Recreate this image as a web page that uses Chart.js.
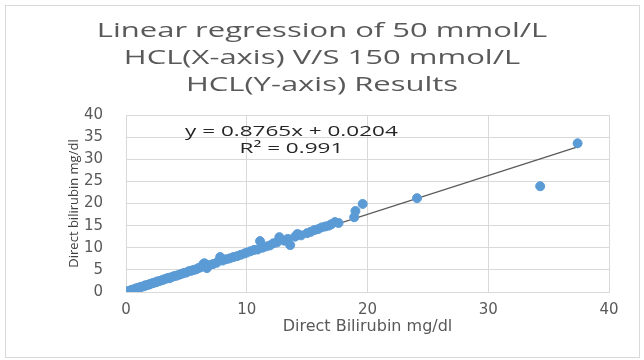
<!DOCTYPE html>
<html lang="en">
<head>
    <meta charset="UTF-8">
    <title>Linear regression HCL</title>
    <script src="https://cdn.jsdelivr.net/npm/chart.js"></script>
    <style>
        body { margin: 0; background: #fff; }
        canvas { display: block; }
    </style>
</head>
<body>
    <canvas id="regChart" width="644" height="360"></canvas>

    <script>
        // 50 mmol/L results (x) vs 150 mmol/L results (y)
        const xValues = [0.1, 0.2, 0.3, 0.4, 0.5, 0.6, 0.7, 0.8, 0.9, 1.0, 1.1, 1.2, 1.3, 1.5, 1.6, 1.8, 1.9, 2.0,
            2.2, 2.3, 2.5, 2.6, 2.8, 3.0, 3.1, 3.3, 3.5, 3.6, 3.8, 4.0, 4.2, 4.4, 4.6, 4.8, 5.0, 5.2, 5.4, 5.6,
            5.8, 6.0, 6.2, 6.4, 6.5, 6.7, 6.9, 7.2, 7.5, 7.8, 8.0, 8.3, 8.6, 8.9, 9.2, 9.5, 9.8, 10.0, 10.3,
            10.6, 10.9, 11.1, 11.3, 11.6, 11.9, 12.2, 12.5, 12.7, 13.1, 13.4, 13.6, 14.0, 14.2, 14.5, 15.0,
            15.3, 15.6, 15.9, 16.2, 16.5, 16.8, 17.0, 17.3, 17.6, 18.9, 19.0, 19.6, 24.1, 34.3, 37.4];
        const yValues = [0.1, 0.2, 0.2, 0.4, 0.5, 0.5, 0.6, 0.8, 0.8, 0.9, 1.0, 1.1, 1.2, 1.3, 1.5, 1.6, 1.7, 1.8,
            2.0, 2.1, 2.2, 2.4, 2.5, 2.7, 2.8, 3.0, 3.2, 3.1, 3.4, 3.6, 3.7, 3.9, 4.1, 4.3, 4.4, 4.7, 4.8, 5.0,
            5.1, 5.4, 5.6, 6.3, 6.5, 5.4, 6.1, 6.3, 6.6, 7.9, 7.1, 7.4, 7.6, 7.9, 8.1, 8.4, 8.7, 8.9, 9.2,
            9.5, 9.6, 11.5, 10.0, 10.3, 10.5, 11.0, 11.2, 12.4, 11.6, 12.0, 10.6, 12.5, 13.1, 12.8, 13.3,
            13.6, 14.0, 14.2, 14.6, 14.8, 15.0, 15.3, 15.8, 15.6, 16.9, 18.3, 19.9, 21.2, 23.9, 33.6];

        // trendline ends as drawn: y = 0.8765x + 0.0204
        const trendX = [0, 37.4];
        const trendY = [0.02, 32.8];

        const xTicks = [0, 10, 20, 30, 40];
        const yTicks = [0, 5, 10, 15, 20, 25, 30, 35, 40];

        const titleLines = ['Linear regression of 50 mmol/L', 'HCL(X-axis) V/S 150 mmol/L', 'HCL(Y-axis) Results'];
        const equationLines = ['y = 0.8765x + 0.0204', 'R² = 0.991'];

        const points = xValues.map((x, i) => ({ x: x, y: yValues[i] }));
        const trend = trendX.map((x, i) => ({ x: x, y: trendY[i] }));

        const fontFamily = "'Open Sans', 'DejaVu Sans', sans-serif";

        // the original picture is stretched sideways, so these texts are drawn widened
        function wideText(c, text, x, y, sx) {
            c.save();
            c.translate(x, y);
            c.scale(sx, 1);
            c.fillText(text, 0, 0);
            c.restore();
        }

        // frame, title and equation
        const extras = {
            id: 'extras',
            beforeDraw(chart) {
                const c = chart.ctx;
                c.save();
                c.strokeStyle = '#d9d9d9';
                c.lineWidth = 1;
                c.strokeRect(5.5, 5.5, 634, 352);
                c.restore();
            },
            afterDraw(chart) {
                const c = chart.ctx;
                const xs = chart.scales.x;
                const ys = chart.scales.y;
                c.save();
                c.textAlign = 'center';
                c.textBaseline = 'middle';

                c.fillStyle = '#595959';
                c.font = '20px ' + fontFamily;
                titleLines.forEach((t, i) => wideText(c, t, 322, 31 + i * 27, 1.55));

                c.fillStyle = '#262626';
                c.font = '15px ' + fontFamily;
                const cx = xs.getPixelForValue(13.7);
                wideText(c, equationLines[0], cx, ys.getPixelForValue(36.3), 1.5);
                wideText(c, equationLines[1], cx, ys.getPixelForValue(32.3), 1.5);
                c.restore();
            }
        };

        new Chart(document.getElementById('regChart'), {
            type: 'scatter',
            data: {
                datasets: [{
                    label: 'Results',
                    data: points,
                    backgroundColor: '#5b9bd5',
                    borderColor: '#5b9bd5',
                    pointRadius: 4.5,
                    pointHoverRadius: 4.5
                }, {
                    type: 'line',
                    label: 'Linear',
                    data: trend,
                    borderColor: '#595959',
                    borderWidth: 1.2,
                    pointRadius: 0,
                    fill: false
                }]
            },
            options: {
                responsive: false,
                animation: false,
                layout: { padding: { left: 66, right: 35, top: 115, bottom: 20 } },
                plugins: {
                    legend: { display: false },
                    tooltip: { enabled: false },
                    title: { display: false }
                },
                scales: {
                    x: {
                        type: 'linear',
                        min: 0,
                        max: 40,
                        afterBuildTicks: s => { s.ticks = xTicks.map(v => ({ value: v })); },
                        afterFit: s => { s.height = 48; },
                        grid: { color: '#d9d9d9', drawTicks: false },
                        border: { color: '#d9d9d9' },
                        ticks: { color: '#595959', padding: 9, font: { family: "'DejaVu Sans', sans-serif", size: 15 } },
                        title: {
                            display: true,
                            text: 'Direct Bilirubin mg/dl',
                            color: '#595959',
                            font: { family: "'DejaVu Sans', sans-serif", size: 16 },
                            padding: { top: 0, bottom: 4 }
                        }
                    },
                    y: {
                        min: 0,
                        max: 40,
                        afterBuildTicks: s => { s.ticks = yTicks.map(v => ({ value: v })); },
                        afterFit: s => { s.width = 60; },
                        grid: { color: '#d9d9d9', drawTicks: false },
                        border: { display: false },
                        ticks: { color: '#595959', padding: 23, font: { family: "'DejaVu Sans', sans-serif", size: 15 } },
                        title: {
                            display: true,
                            text: 'Direct bilirubin mg/dl',
                            color: '#404040',
                            font: { family: fontFamily, size: 13 },
                            padding: { top: 0, bottom: 0 }
                        }
                    }
                }
            },
            plugins: [extras]
        });
    </script>
</body>
</html>
